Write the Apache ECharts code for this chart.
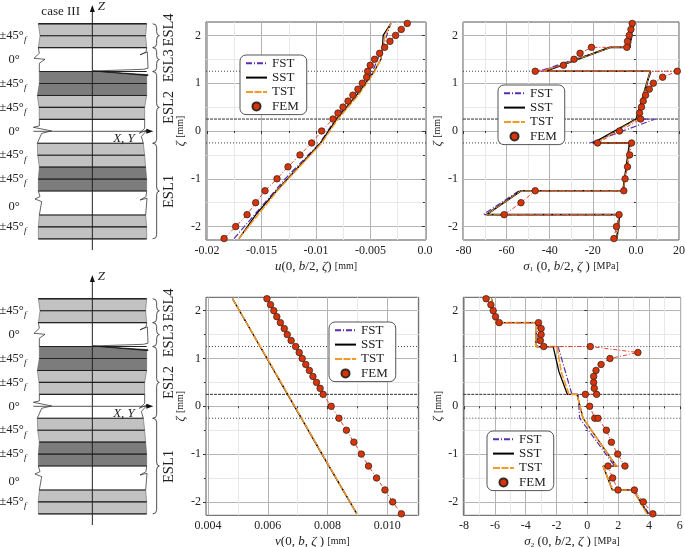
<!DOCTYPE html>
<html><head><meta charset="utf-8">
<style>html,body{margin:0;padding:0;background:#fff}#c{width:685px;height:547px}</style>
<script src="https://cdn.jsdelivr.net/npm/echarts@6/dist/echarts.min.js"></script>
</head><body><div id="c"></div>
<script>
// ---------- chart data ----------
const zetaFem = [2.25,2.125,2,1.875,1.75,1.625,1.5,1.375,1.25,1.125,1,0.875,0.75,0.625,0.5,0.375,0.25,0,-0.25,-0.5,-0.75,-1,-1.25,-1.5,-1.75,-2,-2.25];
const uFem = [-0.00162,-0.00217,-0.00269,-0.00321,-0.0037,-0.00416,-0.00462,-0.00502,-0.00526,-0.00535,-0.00575,-0.00615,-0.00661,-0.00706,-0.00752,-0.00798,-0.00844,-0.00948,-0.0104,-0.01147,-0.01257,-0.01358,-0.01468,-0.01554,-0.01633,-0.01737,-0.01844];
const vFem = [0.00597,0.00609,0.0062,0.0063,0.00642,0.00655,0.00665,0.00678,0.00693,0.00705,0.00715,0.00727,0.00739,0.00751,0.00763,0.00775,0.00785,0.00812,0.00838,0.00863,0.00888,0.00913,0.00937,0.00964,0.00992,0.01018,0.01047];

const uFST = [[-0.01752,-2.25],[-0.01376,-1.25],[-0.01284,-1],[-0.00963,-0.25],[-0.0082,0.25],[-0.0048,1.25],[-0.00388,1.75],[-0.00312,2.25]];
const uSST = [[-0.01707,-2.25],[-0.01552,-1.75],[-0.01362,-1.25],[-0.00958,-0.25],[-0.00811,0.25],[-0.00627,0.75],[-0.00465,1.25],[-0.00404,1.5],[-0.00389,1.75],[-0.00383,2],[-0.00312,2.25]];
const uTST = [[-0.01707,-2.25],[-0.01355,-1.25],[-0.00948,-0.25],[-0.00798,0.25],[-0.00612,0.75],[-0.00459,1.25],[-0.00407,1.5],[-0.00383,1.75],[-0.00367,2],[-0.00312,2.25]];

const s1Fem = [[-1.7,2.25],[-2.3,2.125],[-3.1,2],[-3.9,1.875],[-4.2,1.75],[-20.6,1.75],[-25.9,1.625],[-28.7,1.5],[-33.6,1.375],[-46.7,1.25],[19.2,1.25],[12.4,1.125],[8.1,1],[6.2,0.875],[4.5,0.75],[3.4,0.625],[2.6,0.5],[1.7,0.375],[2.2,0.25],[-7.6,0],[-17.8,-0.25],[-2,-0.25],[-2.9,-0.5],[-3.9,-0.75],[-5,-1],[-5.6,-1.25],[-46.7,-1.25],[-53.3,-1.5],[-61.1,-1.75],[-7.8,-1.75],[-9,-2],[-10.2,-2.25]];
const s1FST = [[-1.1,2.25],[-2.6,1.75],[-11.6,1.75],[-44.8,1.25],[7,1.25],[0.5,0.25],[9,0.25],[-21.2,-0.25],[-2.6,-0.25],[-5.9,-1.25],[-54.1,-1.25],[-70.9,-1.75],[-8,-1.75],[-9.1,-2.25]];
const s1SST = [[-1.4,2.25],[-2.9,1.75],[-12,1.75],[-42,1.25],[6.7,1.25],[0.2,0.25],[-19.7,-0.25],[-2.9,-0.25],[-6,-1.25],[-53.3,-1.25],[-69.3,-1.75],[-7.6,-1.75],[-8.8,-2.25]];
const s1TST = [[-1.4,2.25],[-2.9,1.75],[-11.6,1.75],[-42.6,1.25],[6.7,1.25],[0.5,0.25],[-18.9,-0.25],[-2.6,-0.25],[-5.9,-1.25],[-53.3,-1.25],[-69.3,-1.75],[-8,-1.75],[-8.8,-2.25]];

const vFST = [[0.00482,2.25],[0.00598,1],[0.00667,0.25],[0.00713,-0.25],[0.00782,-1],[0.00898,-2.25]];
const vSST = [[0.00482,2.25],[0.00597,1],[0.00666,0.25],[0.00712,-0.25],[0.00781,-1],[0.00898,-2.25]];
const vTST = [[0.00482,2.25],[0.00598,1],[0.00667,0.25],[0.00713,-0.25],[0.00782,-1],[0.00898,-2.25]];

const s2Fem = [[-6.57,2.25],[-6.26,2.125],[-6.11,2],[-5.96,1.875],[-5.72,1.75],[-3.17,1.75],[-3,1.625],[-3,1.5],[-3.05,1.375],[-2.83,1.25],[0.19,1.25],[3.28,1.125],[1.47,1],[0.89,0.875],[0.56,0.75],[0.41,0.625],[0.41,0.5],[0.45,0.375],[0.6,0.25],[-0.13,0.25],[0.15,0],[0.48,-0.25],[0.69,-0.25],[1.23,-0.5],[1.56,-0.75],[1.97,-1],[2.44,-1.25],[1.34,-1.25],[1.64,-1.5],[1.99,-1.75],[3.05,-1.75],[3.63,-2],[4.25,-2.25]];
const s2FST = [[-6.22,2.25],[-5.94,1.75],[-3.26,1.75],[-3.26,1.25],[-1.9,1.25],[-1,0.25],[-0.6,0.25],[-0.5,-0.25],[-0.5,-0.25],[1.77,-1.25],[1.02,-1.25],[1.66,-1.75],[3,-1.75],[4,-2.25]];
const s2SST = [[-6.22,2.25],[-5.94,1.75],[-3.3,1.75],[-3.35,1.25],[-2.22,1.25],[-1.84,0.72],[-1.3,0.25],[-0.67,0.25],[-0.28,-0.25],[1.88,-1.25],[1.02,-1.25],[1.62,-1.75],[2.96,-1.75],[3.93,-2.25]];
const s2TST = [[-6.22,2.25],[-5.94,1.75],[-3.3,1.75],[-3.35,1.25],[-1.96,1.25],[-1.7,0.72],[-1.19,0.25],[-0.67,0.25],[-0.28,-0.25],[1.88,-1.25],[1.02,-1.25],[1.62,-1.75],[2.96,-1.75],[3.87,-2.25]];

const zetaMajor = [2,1,0,-1,-2];
const zetaMinor = [1.5,0.5,-0.5,-1.5];
const zetaInterfaces = [1.25,0.25,-0.25];

const uTicks = [-0.02,-0.015,-0.01,-0.005,0];
const uTickLabels = ['-0.02','-0.015','-0.01','-0.005','0.0'];
const uMinor = [-0.0175,-0.0125,-0.0075,-0.0025];
const s1Ticks = [-80,-60,-40,-20,0,20];
const s1TickLabels = ['-80','-60','-40','-20','0.0','20'];
const s1Minor = [-70,-50,-30,-10,10];
const vTicks = [0.004,0.006,0.008,0.010];
const vTickLabels = ['0.004','0.006','0.008','0.010'];
const vMinor = [0.005,0.007,0.009,0.011];
const s2Ticks = [-8,-6,-4,-2,0,2,4,6];
const s2TickLabels = ['-8','-6','-4','-2','0','2','4','6'];
const s2Minor = [-7,-5,-3,-1,1,3,5];

// ---------- laminate schematic data (x in sketch units, z in zeta) ----------
const plyBounds = [2.25,2,1.75,1.25,1,0.75,0.5,0.25,-0.25,-0.5,-0.75,-1,-1.25,-1.75,-2,-2.25];
const plyShade  = ['L','L','W','D','D','L','L','W','L','L','D','D','W','L','L'];
const plyLeft   = [115,120,115,118,118,112,117,118,112,113,118,115,115,118,115,115];
const plyRight  = [440,437,440,440,440,440,434,434,430,434,437,440,440,437,440,440];
const plyLabels = [['±45°',2],['0°',1.5],['±45°',1],['±45°',0.5],['0°',0],['±45°',-0.5],['±45°',-1],['0°',-1.58],['±45°',-2]];
const eslBraces = [[2.25,1.75],[1.75,1.25],[1.25,-0.25],[-0.25,-2.25]];
const eslLabels = [['ESL4',2.12],['ESL3',1.37],['ESL2',0.5],['ESL1',-1.26]];
const edgeLines = [
 [[115,1.75],[118,1.632],[102,1.527],[135,1.506],[118,1.423],[118,1.25]],
 [[440,1.75],[438,1.66],[420,1.6],[442,1.66],[444,1.32],[430,1.297],[278,1.262]],
 [[118,0.25],[118,0.112],[100,0.084],[155,0.007],[125,-0.042],[112,-0.25]],
 [[434,0.25],[434,0.06],[418,-0.04],[442,0.03],[424,-0.11],[430,-0.25]],
 [[115,-1.25],[120,-1.367],[105,-1.416],[125,-1.471],[118,-1.75]],
 [[440,-1.25],[438,-1.367],[420,-1.437],[441,-1.402],[437,-1.75]]
];
const crackWedge = [[278,1.262],[444,1.28],[444,1.185]];

// ---------- styling ----------
const serif = '"Liberation Serif","DejaVu Serif",serif';
const cFST='#5a2db0', cSST='#000', cTST='#f59a23', cFEM='#d9330a';
const yRange=[-2.28,2.28];
const grids=[], xAxes=[], yAxes=[], series=[], legends=[];
const nameRich={i:{fontFamily:serif,fontStyle:'italic',fontSize:13,color:'#222'},r:{fontFamily:serif,fontSize:13,color:'#222'},s:{fontFamily:serif,fontSize:10,color:'#222'},b:{fontFamily:serif,fontSize:7,color:'#222',verticalAlign:'bottom'}};
const hidden={color:'rgba(0,0,0,0)',borderColor:'rgba(0,0,0,0)',opacity:0,borderWidth:0};

function addPanel(p){
  const g=grids.length;
  grids.push({left:p.left,top:p.top,width:p.width,height:p.height,show:true,borderColor:'#555',borderWidth:1,backgroundColor:'#fff',outerBoundsMode:'none',containLabel:false});
  const xMaj=xAxes.length, yMaj=yAxes.length;
  const labelFmt=(ticks,labels)=>v=>{for(let i=0;i<ticks.length;i++){if(Math.abs(ticks[i]-v)<1e-9)return labels[i];}return '';};
  xAxes.push({gridIndex:g,type:'value',position:'bottom',min:p.xr[0],max:p.xr[1],name:p.xName,nameLocation:'middle',nameGap:20,nameTextStyle:{rich:nameRich},
    axisLine:{show:false},axisTick:{show:true,length:3,lineStyle:{color:'#333'},customValues:p.xTicks},
    axisLabel:{customValues:p.xTicks,formatter:labelFmt(p.xTicks,p.xLabels),fontFamily:serif,fontSize:12,color:'#222',margin:5,hideOverlap:false,showMinLabel:true,showMaxLabel:true},
    splitLine:{show:true,lineStyle:{color:'#b4b4b4',width:1}},minorTick:{show:false}});
  xAxes.push({gridIndex:g,type:'value',position:'bottom',min:p.xr[0],max:p.xr[1],axisLine:{show:false},axisLabel:{show:false},
    axisTick:{show:true,length:2,lineStyle:{color:'#333'},customValues:p.xMinor},splitLine:{show:true,lineStyle:{color:'#e8e8e8',width:1}}});
  yAxes.push({gridIndex:g,type:'value',position:'left',min:yRange[0],max:yRange[1],name:'{i|ζ} {s|[mm]}',nameLocation:'middle',nameRotate:90,nameGap:p.yGap,nameTextStyle:{rich:nameRich},
    axisLine:{show:false},axisTick:{show:true,length:3,lineStyle:{color:'#333'},customValues:zetaMajor},
    axisLabel:{customValues:zetaMajor,formatter:v=>String(v),fontFamily:serif,fontSize:12,color:'#222',margin:5},
    splitLine:{show:true,lineStyle:{color:'#b4b4b4',width:1}}});
  yAxes.push({gridIndex:g,type:'value',position:'left',min:yRange[0],max:yRange[1],axisLine:{show:false},axisLabel:{show:false},
    axisTick:{show:true,length:2,lineStyle:{color:'#333'},customValues:zetaMinor},splitLine:{show:true,lineStyle:{color:'#e8e8e8',width:1}}});
  const ax={xAxisIndex:xMaj,yAxisIndex:yMaj};
  zetaInterfaces.forEach(z=>series.push(Object.assign({type:'line',name:'iface',data:[[p.xr[0],z],[p.xr[1],z]],symbol:'none',silent:true,z:1,
    lineStyle:{color:'#333',width:z===0.25?1:0.9,type:z===0.25?[3,1]:[1,2]}},ax)));
  series.push(Object.assign({type:'line',name:'FST',data:p.fst,symbol:'none',silent:true,z:2,color:cFST,lineStyle:{color:cFST,width:1.2,type:[6,2,1,2]}},ax));
  series.push(Object.assign({type:'line',name:'SST',data:p.sst,symbol:'none',silent:true,z:2,color:cSST,lineStyle:{color:cSST,width:p.sstW}},ax));
  series.push(Object.assign({type:'line',name:'TST',data:p.tst,symbol:'none',silent:true,z:2,color:cTST,lineStyle:{color:cTST,width:p.tstW,type:[7,1.5]}},ax));
  series.push(Object.assign({type:'line',name:'FEM path',data:p.fem,symbol:'none',silent:true,z:3,lineStyle:{color:'#e8402c',width:1,type:[4,2,1,2]}},ax));
  series.push(Object.assign({type:'scatter',name:'FEM',data:p.fem,symbol:'circle',symbolSize:6.5,silent:true,z:4,color:cFEM,itemStyle:{color:cFEM,borderColor:'#3a2a20',borderWidth:0.8,opacity:1}},ax));
  legends.push({show:true,data:[{name:'FST',itemStyle:hidden},{name:'SST',itemStyle:hidden},{name:'TST',itemStyle:hidden},{name:'FEM'}],left:p.leg[0],top:p.leg[1],orient:'vertical',padding:[1,8,1,5],itemGap:0,itemWidth:21,itemHeight:8,
    selectedMode:false,backgroundColor:'#fff',borderColor:'#555',borderWidth:1,borderRadius:6,z:6,textStyle:{fontFamily:serif,fontSize:13,color:'#222',lineHeight:14.4}});
}

const zip=(xs,zs)=>xs.map((x,i)=>[x,zs[i]]);
addPanel({left:206,top:22,width:220,height:218,xr:[-0.0201,0.0001],xTicks:uTicks,xLabels:uTickLabels,xMinor:uMinor,yGap:11.5,leg:[240,55],sstW:1.3,tstW:1.5,
  xName:'{i|u}{r|(0, }{i|b}{r|/2, }{i|ζ}{r|)} {s|[mm]}',fem:zip(uFem,zetaFem),fst:uFST,sst:uSST,tst:uTST});
addPanel({left:463,top:22,width:216,height:218,xr:[-80.2,20],xTicks:s1Ticks,xLabels:s1TickLabels,xMinor:s1Minor,yGap:11.5,leg:[498,85],sstW:1.7,tstW:0.9,
  xName:'{i|σ}{b|1} {r|(0, }{i|b}{r|/2, }{i|ζ}{r| )} {s|[MPa]}',fem:s1Fem,fst:s1FST,sst:s1SST,tst:s1TST});
addPanel({left:206,top:297.3,width:212.7,height:218,xr:[0.00393,0.01105],xTicks:vTicks,xLabels:vTickLabels,xMinor:vMinor,yGap:11.5,leg:[329,322],sstW:1.3,tstW:1.5,
  xName:'{i|v}{r|(0, }{i|b}{r|, }{i|ζ}{r| )} {s|[mm]}',fem:zip(vFem,zetaFem),fst:vFST,sst:vSST,tst:vTST});
addPanel({left:463.3,top:297.3,width:217.3,height:218,xr:[-8.05,6.05],xTicks:s2Ticks,xLabels:s2TickLabels,xMinor:s2Minor,yGap:11.5,leg:[487,431],sstW:1.3,tstW:1.6,
  xName:'{i|σ}{b|2} {r|(0, }{i|b}{r|/2, }{i|ζ}{r| )} {s|[MPa]}',fem:s2Fem,fst:s2FST,sst:s2SST,tst:s2TST});

// ---------- schematic panels ----------
function addSketch(top,height,zTop,zBot,withCase){
  const g=grids.length, xi=xAxes.length, yi=yAxes.length;
  grids.push({left:0,top:top,width:200,height:height,show:false,outerBoundsMode:'none'});
  xAxes.push({gridIndex:g,type:'value',min:0,max:600,show:false});
  yAxes.push({gridIndex:g,type:'value',min:zBot,max:zTop,show:false});
  const render=(params,api)=>{
    const c=(x,z)=>api.coord([x,z]);
    const kids=[];
    plyShade.forEach((s,i)=>{
      if(s==='W')return;
      kids.push({type:'polygon',shape:{points:[c(plyLeft[i],plyBounds[i]),c(plyRight[i],plyBounds[i]),c(plyRight[i+1],plyBounds[i+1]),c(plyLeft[i+1],plyBounds[i+1])]},
        style:{fill:s==='L'?'#c2c2c2':'#7c7c7c',stroke:'#555',lineWidth:0.5}});
    });
    kids.push({type:'polygon',shape:{points:crackWedge.map(p=>c(p[0],p[1]))},style:{fill:'#fff'}});
    plyBounds.forEach((z,i)=>{
      const heavy=(i===0||i===2||i===15);
      kids.push({type:'line',shape:{x1:c(plyLeft[i],z)[0],y1:c(0,z)[1],x2:c(plyRight[i],z)[0],y2:c(0,z)[1]},style:{stroke:'#222',lineWidth:heavy?1.3:1.1}});
    });
    const w=crackWedge.map(p=>c(p[0],p[1]));
    kids.push({type:'polygon',shape:{points:[w[0],[w[2][0],w[2][1]],[w[2][0],w[2][1]+1]]},style:{fill:'#111',stroke:'#111',lineWidth:0.6}});
    edgeLines.forEach(l=>kids.push({type:'polyline',shape:{points:l.map(p=>c(p[0],p[1]))},style:{fill:'none',stroke:'#222',lineWidth:0.7}}));
    const a1=c(277,zTop),a2=c(277,zBot),o1=c(100,0),o2=c(448,0);
    kids.push({type:'line',shape:{x1:a1[0],y1:a1[1]+3,x2:a2[0],y2:a2[1]},style:{stroke:'#222',lineWidth:1}});
    kids.push({type:'polygon',shape:{points:[[a1[0],a1[1]],[a1[0]-2.5,a1[1]+7],[a1[0]+2.5,a1[1]+7]]},style:{fill:'#111'}});
    kids.push({type:'line',shape:{x1:o1[0],y1:o1[1],x2:o2[0],y2:o2[1]},style:{stroke:'#444',lineWidth:0.9}});
    kids.push({type:'polygon',shape:{points:[[o2[0]+4,o2[1]],[o2[0]-3,o2[1]-2.5],[o2[0]-3,o2[1]+2.5]]},style:{fill:'#111'}});
    const T=(x,y,text,font,extra)=>kids.push(Object.assign({type:'text',x:x,y:y,style:{text:text,font:font,fill:'#222',textAlign:'center',textVerticalAlign:'middle',align:'center',verticalAlign:'middle'}},extra||{}));
    T(a1[0]+9,a1[1]+2,'Z','italic 13px '+serif);
    T(c(372,0)[0],c(0,0)[1]+7,'X, Y','italic 13px '+serif);
    if(withCase)T(c(182,0)[0],a1[1]+7,'case III','13px '+serif);
    plyLabels.forEach(l=>{
      const x=c(l[0]==='0°'?42:38,0)[0], y=c(0,l[1])[1];
      if(l[0]==='0°')T(x,y,'0°','12.5px '+serif);
      else{
        T(x-1,y,l[0],'12.5px '+serif);
        T(x+12.5,y+4,'f','italic 9px '+serif);
      }
    });
    eslBraces.forEach(b=>{
      const xb=c(458,0)[0],xs=c(470,0)[0],xt=c(478,0)[0];
      const y0=c(0,b[0])[1],y1=c(0,b[1])[1],ym=(y0+y1)/2,r=4;
      const st={stroke:'#222',lineWidth:0.8,fill:'none'};
      kids.push({type:'bezierCurve',shape:{x1:xb,y1:y0,x2:xs,y2:y0+r,cpx1:xs,cpy1:y0},style:st});
      kids.push({type:'line',shape:{x1:xs,y1:y0+r,x2:xs,y2:ym-r},style:st});
      kids.push({type:'bezierCurve',shape:{x1:xs,y1:ym-r,x2:xt,y2:ym,cpx1:xs,cpy1:ym},style:st});
      kids.push({type:'bezierCurve',shape:{x1:xt,y1:ym,x2:xs,y2:ym+r,cpx1:xs,cpy1:ym},style:st});
      kids.push({type:'line',shape:{x1:xs,y1:ym+r,x2:xs,y2:y1-r},style:st});
      kids.push({type:'bezierCurve',shape:{x1:xs,y1:y1-r,x2:xb,y2:y1,cpx1:xs,cpy1:y1},style:st});
    });
    eslLabels.forEach(l=>T(c(508,0)[0],c(0,l[1])[1],l[0],'14.5px '+serif,{rotation:Math.PI/2}));
    return {type:'group',children:kids};
  };
  series.push({type:'custom',name:'sketch',xAxisIndex:xi,yAxisIndex:yi,silent:true,clip:false,data:[[0,0]],renderItem:render,z:5});
}
addSketch(5,245,(131.3-5)/47.8,(131.3-250)/47.8,true);
addSketch(275,250,(406.3-275)/47.8,(406.3-525)/47.8,false);

const chart=echarts.init(document.getElementById('c'),null,{renderer:'canvas'});
chart.setOption({animation:false,backgroundColor:'#fff',tooltip:{show:false},grid:grids,xAxis:xAxes,yAxis:yAxes,legend:legends,series:series});
</script></body></html>
